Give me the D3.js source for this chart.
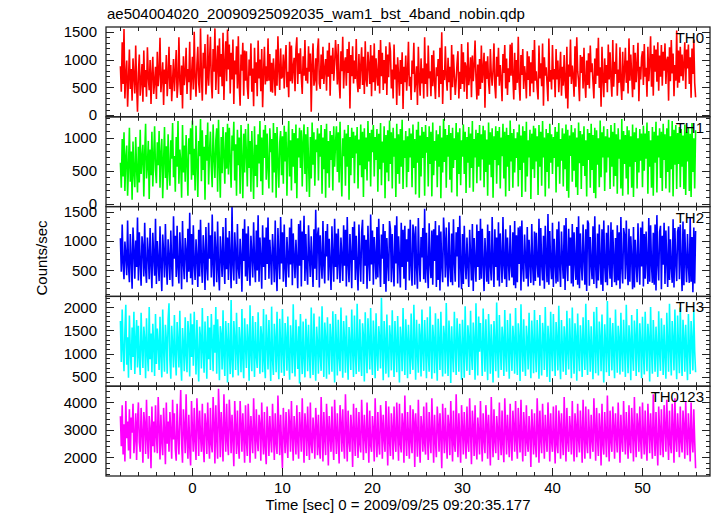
<!DOCTYPE html>
<html>
<head>
<meta charset="utf-8">
<script src="https://cdn.jsdelivr.net/npm/d3@7"></script>
<style>
  html, body { margin: 0; padding: 0; background: #fff; }
  svg { display: block; font-family: "Liberation Sans", Arial, Helvetica, sans-serif; }
</style>
</head>
<body>
<svg id="chart" width="717" height="516"></svg>
<script>
// ---------------- data ----------------
const title = "ae504004020_20090925092035_wam1_bst_4band_nobin.qdp";
const xLabel = "Time [sec] 0 = 2009/09/25 09:20:35.177";
const yLabel = "Counts/sec";
const panelNames = ["TH0", "TH1", "TH2", "TH3", "TH0123"];
const panelColors = ["#ff0000", "#00ff00", "#0000ff", "#00ffff", "#ff00ff"];
const xTicks = [0, 10, 20, 30, 40, 50];
const yTicks = [[0, 500, 1000, 1500], [0, 500, 1000], [500, 1000, 1500], [500, 1000, 1500, 2000], [2000, 3000, 4000]];
const yMinorStep = [100, 100, 100, 100, 200];
const yDomains = [[-31, 1585], [-45, 1315], [60, 1585], [300, 2230], [1320, 4590]];
const xDomain = [-9.6, 57.5];
const tStart = -8;     // first bin time (s)
const tStep = 0.1;     // bin width (s)

const th0 = [
880,420,1310,560,1550,300,720,980,150,640,1180,470,830,260,1020,690,390,1250,540,60,
760,1090,350,610,920,240,1160,500,810,330,1220,680,450,990,200,730,1050,380,600,870,
290,1140,520,760,1390,410,650,950,180,820,560,1080,340,700,1230,470,900,250,630,1010,
430,780,1170,310,560,1400,620,360,890,120,1060,540,740,1210,380,830,590,1320,270,700,
1050,460,1500,680,330,910,1230,570,400,1560,720,260,1120,840,1280,370,650,1450,530,960,
1410,600,300,1190,780,1560,450,880,1250,380,1380,690,1100,520,1480,270,920,1330,610,1540,
820,1270,390,1120,640,1360,200,980,730,1240,480,1420,560,170,1090,800,1300,350,1160,620,
1150,510,290,1000,710,1290,420,840,160,1210,580,950,340,1340,660,1000,430,1190,140,760,
1230,550,880,610,1380,620,1100,420,940,400,1020,720,350,1180,530,1420,810,450,1200,660,
690,1090,480,960,1260,500,780,320,1320,610,1250,570,870,1030,430,1180,1400,560,1110,740,
1200,680,380,1060,710,1350,620,850,570,1240,780,1110,60,920,1290,530,640,1020,440,1170,
1380,570,470,1090,650,1230,560,820,1010,440,1160,690,1300,350,1070,740,1210,620,920,1350,
1060,550,1280,610,300,1150,790,1410,480,940,1040,530,1190,760,1320,120,1080,700,1240,570,
980,650,1370,610,410,1100,470,880,1220,540,1050,380,1330,640,510,1140,900,560,1260,340,
1070,590,1290,440,1020,730,530,1170,390,1350,700,1120,450,990,570,1240,360,1090,680,1310,
1150,480,820,300,1270,640,910,180,1040,720,350,990,560,1130,110,870,590,1070,440,760,
1320,520,690,270,980,740,1300,410,610,880,180,1230,640,350,1020,570,840,300,1400,560,
930,330,1250,660,790,340,1080,520,1160,590,290,860,700,1010,320,1210,560,1490,200,810,
630,1240,690,440,1030,590,870,270,1260,500,1090,730,360,620,940,1150,300,780,470,1280,
560,1130,420,950,860,290,1310,540,720,1040,320,1070,610,890,1340,680,280,910,350,1010,
470,1250,580,810,1120,130,970,650,1060,600,380,1190,740,530,820,1290,520,300,1050,690,
1210,530,900,650,250,1100,760,1260,480,1020,360,840,590,1270,710,1300,690,280,1120,450,
990,580,1410,560,260,1080,720,1190,470,880,700,300,1150,630,1060,340,950,570,1170,410,
1350,620,790,480,280,1250,660,930,520,1290,170,1040,710,860,550,250,1380,600,810,460,
1260,640,830,320,1190,640,980,410,760,1140,350,870,530,1080,600,300,1230,120,910,690,
1360,560,890,700,330,1240,510,1400,790,620,250,1080,760,1050,480,1210,610,310,980,540,
1110,480,1250,770,930,600,300,1020,560,1200,710,1390,490,860,150,1230,660,320,1020,580,
900,410,1270,640,1130,630,330,1350,510,960,740,1290,350,820,580,1220,570,270,1140,430,
810,1210,580,980,390,1380,620,1090,720,320,1260,460,1120,590,900,1300,250,870,640,1040,
1150,540,1280,690,850,330,1230,610,920,1420,510,1100,350,1250,780,1180,600,1310,440,1070,
690,1260,530,1140,800,1290,560,980,1050,260,1220,610,1350,750,1110,340,900,620,1520,490,
1160,580,1230,700,1090,620,930,1310,470,1180,840,1270,560,1040,310,1200,740,1360,580,320
];

const th1 = [
620,240,980,410,1080,190,700,880,120,560,1150,330,790,60,940,470,250,1010,520,170,
860,320,1120,450,690,890,110,760,1210,380,570,950,70,820,430,1090,260,700,1170,510,
310,930,580,1100,240,760,980,80,640,1160,390,870,210,1050,520,270,960,680,1220,400,
720,180,1010,560,1250,300,820,640,90,1190,470,880,330,1040,610,120,990,750,1140,360,
1260,430,830,200,1180,600,100,950,720,1280,340,1110,510,860,60,1040,650,1230,290,790,
1090,560,250,1200,700,390,960,1140,180,1270,610,90,1010,460,1160,750,300,1080,530,1210,
440,1150,660,240,1030,800,1240,350,900,120,1120,580,1000,150,1190,680,80,1060,470,1130,
750,260,1210,540,950,180,1100,640,70,1170,420,890,250,1050,610,1250,340,1000,130,1120,
690,1190,360,1060,550,230,1140,780,980,170,1220,470,1070,90,1160,620,240,930,1100,430,
1020,300,1180,640,1090,120,820,1250,410,960,200,1130,560,1070,310,1200,80,990,700,1150,
540,1110,260,940,1200,450,1050,180,1160,640,100,1010,380,1230,590,1080,270,970,780,1140,
350,1060,710,1190,150,1000,520,1130,90,1210,460,950,240,1100,660,1040,200,1170,560,920,
1170,480,1080,320,1240,610,110,990,720,1120,270,1060,560,1190,60,1010,430,1150,690,1090,
310,1030,760,1160,230,970,580,1200,400,1090,100,1140,520,1000,350,1250,640,1070,260,1120,
780,1190,410,1010,660,1130,180,1060,520,1220,280,940,620,1170,80,1040,470,1110,340,1260,
600,1080,230,1150,710,990,100,1210,450,1050,300,1130,560,1270,220,960,690,1100,250,1020,
480,1140,700,1060,250,1200,540,980,140,1120,620,1240,90,1030,410,1160,690,1090,120,1190,
770,1010,260,1170,600,1090,110,1230,430,950,650,1110,250,1050,560,1180,80,1000,470,1280,
630,1130,240,1040,710,1190,360,1070,170,1150,540,990,660,1220,110,1080,450,1140,280,960,
710,1200,450,1090,160,1010,620,1160,240,1060,540,1250,180,980,700,1120,310,1070,560,1190,
350,1050,670,1180,250,1110,480,970,120,1230,590,1080,400,1140,90,1020,660,1170,300,1100,
580,1160,230,1000,720,1210,380,1090,110,1150,560,1040,190,1260,640,1070,240,1130,470,990,
690,1080,260,1200,510,1030,100,1170,620,1100,180,1240,410,960,700,1120,70,1060,520,1180,
390,1140,640,1020,130,1190,560,1090,270,1250,700,1000,110,1130,480,1070,230,1210,620,1050,
450,1010,690,1160,170,1090,560,1220,300,980,650,1140,260,1060,520,1200,190,1120,90,1030,
720,1190,330,1080,500,1140,250,1000,130,1230,610,1100,220,1050,570,1170,420,960,110,1130,
660,1070,240,1210,510,1040,160,1150,80,1110,590,990,250,1260,400,1080,700,1170,190,1020,
470,1130,700,1000,220,1190,560,1090,260,1220,420,1050,150,1140,680,970,230,1280,120,1100,
600,1040,380,1170,140,1110,560,1020,240,1200,100,1080,630,1150,230,990,470,1130,650,1060,
250,1180,500,1060,680,1230,150,1100,560,960,240,1160,120,1090,620,1240,170,1030,700,1140,
390,1090,190,1210,660,1050,230,1140,480,1270,170,1020,520,1250,110,1120,590,1190,220,1070,
600,1160,250,1130,560,1030,220,1200,130,1080,640,1150,190,1060,100,1220,480,990,230,1110
];

const th2 = [
1050,480,1280,620,350,990,760,420,1350,580,300,1120,690,190,1230,840,360,1010,560,1400,
330,1150,640,240,1080,900,400,1310,520,290,1060,780,350,1220,600,200,1140,730,410,1380,
270,1000,650,320,1250,560,150,1110,800,380,1290,610,260,1030,710,340,1180,580,230,1420,
700,1090,390,1260,550,280,1150,760,180,1340,620,350,1050,830,300,1210,480,1480,370,1120,
260,1270,610,340,1030,720,220,1190,400,1360,650,290,1100,780,170,1240,560,330,1310,700,
1100,380,1450,600,230,1160,820,300,1330,510,160,1080,740,390,1240,620,270,1390,520,1060,
340,1170,700,200,1580,610,330,1150,800,270,1290,540,360,1040,720,140,1210,660,1370,400,
1130,320,1250,580,240,1090,770,380,1320,650,300,1180,500,1440,310,1060,710,190,1270,560,
1060,340,1230,610,1400,360,1020,690,260,1120,800,300,1350,540,150,1220,700,350,1410,620,
1150,310,1280,540,220,1070,730,380,1230,600,1380,250,1130,720,370,1020,660,200,1290,580,
1350,230,1160,680,1430,320,1120,560,260,1270,740,390,1080,640,220,1200,530,1530,340,1100,
1230,210,1100,660,360,1340,580,280,1170,740,1290,330,1040,620,170,1250,710,310,1380,560,
1130,350,1210,640,290,1060,720,320,1270,580,1190,230,1410,610,300,1120,760,200,1240,680,
1330,340,1090,560,160,1280,690,310,1150,1360,270,1100,580,1020,190,1260,650,320,1450,600,
1180,260,1070,730,350,1240,380,1380,620,220,1110,700,1290,270,1170,140,1050,640,320,1340,
1200,300,1120,580,230,1270,620,1420,280,1080,690,210,1310,560,1190,360,1260,170,1030,650,
1210,330,1360,600,240,1280,1120,260,1250,570,190,1390,650,310,1070,720,1220,350,1550,290,
1140,560,200,1300,630,370,1180,260,1200,660,1340,220,1100,340,1270,160,1160,590,300,1400,
1050,380,1230,610,230,1320,580,300,1130,250,1370,640,310,1150,740,1240,210,1430,560,180,
1120,270,1260,650,350,1060,580,220,1190,740,330,1290,150,1050,640,310,1280,560,1170,340,
1380,360,1210,620,150,1050,700,310,1280,270,1170,590,330,1410,640,220,1200,560,1060,330,
1320,230,1130,690,290,1410,600,350,1200,220,1060,660,330,1270,580,380,1150,250,1340,200,
1100,300,1230,610,1250,160,1350,560,310,1110,710,360,1240,230,1020,650,290,1290,580,250,
1160,320,1140,630,380,1380,240,1220,610,330,1090,190,1260,700,300,1460,260,1170,590,350,
1310,220,1040,640,280,1200,310,1330,570,220,1160,680,360,1270,170,1390,610,320,1210,580,
1060,280,1290,230,1150,650,340,1240,260,1420,200,1130,610,330,1280,700,260,1200,150,1350,
1300,240,1070,620,350,1250,270,1420,580,200,1130,330,1280,660,260,1200,150,1350,600,300,
1140,250,1270,640,360,1320,220,1190,700,300,1050,250,1270,330,1150,190,1410,560,280,1220,
1110,350,1350,620,250,1210,310,1080,700,180,1240,210,1020,650,300,1300,590,260,1230,570,
1330,230,1120,360,1160,650,270,1390,310,1270,600,290,1140,260,1280,160,1440,620,330,1150,
1260,180,1090,600,1310,270,1180,650,220,1250,340,1030,560,290,1370,210,1220,620,320,1160,
1240,350,1280,620,150,1330,250,1200,660,300,1120,580,290,1390,310,1070,130,1230,280,1170
];

const th3 = [
1700,820,1950,1100,620,1480,2050,760,1350,480,1820,1050,650,1560,930,1900,560,1280,1720,700,
1600,930,540,1880,1170,690,1580,1320,470,1760,1010,620,2000,880,1430,600,1640,1190,520,1850,
780,1540,1210,650,1790,960,490,1950,1080,610,1620,1300,570,1740,2080,860,460,1600,1150,700,
1830,990,530,1680,1240,700,1920,870,420,1550,1190,620,1780,1000,600,1700,1400,510,1860,930,
1630,740,1900,1180,550,1720,960,400,1580,1350,680,1980,1050,590,1690,1130,460,1810,880,1560,
650,1850,1240,620,1620,1020,2000,570,1740,1190,430,1590,1400,660,1930,960,520,1700,1280,380,
1660,1080,560,2150,870,490,1700,1310,650,1880,1030,530,1570,1220,600,1960,900,470,1760,1150,
690,1630,1260,420,2040,1010,620,1810,1170,500,1680,950,690,1890,1120,570,1590,1360,600,1960,
830,470,1840,1230,660,1720,1060,410,2010,880,540,1640,1290,600,1900,1000,450,1750,1180,590,
1960,1020,520,1660,1300,630,1800,930,440,1610,1210,580,2060,1010,510,1730,1180,670,1590,360,
1850,1100,560,1690,940,490,1750,1280,620,1620,990,470,1990,1140,540,1860,1020,420,1580,1210,
570,1800,970,630,2020,1190,500,1670,1330,460,1780,1050,550,1640,1260,610,1910,1010,380,1850,
1230,530,1730,930,620,1990,1150,480,1700,1280,590,1820,1000,440,1570,1190,650,1950,1080,500,
1820,1030,560,2070,1160,610,1740,920,520,1650,1380,400,1890,1060,580,1760,1250,660,1980,1010,
540,1710,1280,470,1870,1020,630,1590,1300,680,2200,1110,430,1700,1240,570,1840,960,490,1610,
1330,640,1930,1090,500,1700,1190,600,1810,1050,380,1580,1260,620,1980,1110,540,1740,1300,470,
1620,1160,560,1860,940,650,2050,1220,440,1730,1010,590,1640,1350,510,1950,1060,630,1720,1180,
470,1780,1020,610,2010,1140,460,1620,1280,580,1870,990,420,1750,1230,650,1900,1070,510,1600,
1370,570,2090,1130,520,1710,1240,370,1590,1010,600,1900,1170,540,1760,1300,610,1640,1080,440,
1730,1210,480,2020,1050,630,1610,1320,540,1920,990,650,1670,1260,440,2080,1140,530,1800,1040,
1660,1100,520,1970,1190,610,1740,1010,430,1850,1270,570,1630,1080,380,1700,1230,620,2100,1060,
480,1830,1160,650,1580,1300,520,1940,990,610,1720,1200,460,1860,1090,630,1600,1270,570,1980,
1050,540,1650,1320,410,2060,1130,610,1740,1000,520,1600,1290,660,1880,1060,470,1710,1190,580,
1940,1080,600,1720,1210,460,1830,1020,530,1660,1340,650,2000,1120,500,1600,1250,390,1900,1090,
620,1850,1160,520,1680,1280,640,2030,990,450,1720,1130,610,1590,1270,540,1920,1050,660,1760,
1200,470,1990,1080,570,1650,1330,420,1860,1020,620,1610,1240,500,1780,1100,650,2070,1010,540,
1720,1250,610,1590,1010,450,1900,1170,580,2000,1090,530,1690,1320,620,1840,990,380,1630,1210,
600,2130,1060,520,1770,1290,640,1660,1020,470,1950,1180,590,1600,1310,550,1880,1040,610,1730,
1150,500,2050,1100,580,1610,1260,430,1830,990,630,1710,1340,520,1960,1080,600,1650,1220,470,
1790,1020,550,1900,1180,620,1640,1300,400,2000,1070,570,1720,1230,610,1580,1110,500,1910,1040,
630,1760,1250,540,1620,1000,460,1880,1190,610,2070,1100,530,1700,1280,640,1950,1030,450,1820,
1160,580,1990,1060,520,1730,1310,610,1620,1010,430,1850,1180,560,1700,1270,640,1930,1050,600
];

const th0123 = [
3500,2400,3900,2100,3200,1850,4050,2700,3300,2250,3750,1950,3450,2900,3950,2150,2700,3600,1900,3300,
4000,2550,2200,3800,2900,1800,3650,3200,2120,4100,2700,1950,3500,3000,1600,3850,2400,3300,2180,3900,
2800,2150,4200,3100,1920,3550,2600,2080,3800,2950,1750,4000,2500,3300,2200,3650,2900,1950,4100,2650,
3600,2300,1880,3950,2800,2100,3400,4450,2500,1800,3750,3100,2150,4300,2700,1950,3550,2400,1700,4050,
3000,2200,3800,2600,1900,4150,3300,2050,3700,2800,2200,3950,2450,1820,3600,3150,2120,4000,2700,1950,
3800,2500,2180,4200,3200,1780,3900,2700,1950,4500,3400,2000,3650,2850,1850,4300,3050,2200,3950,2600,
2080,4100,3300,2150,3550,2700,1680,4050,3100,2120,3700,2500,1950,4050,3200,2200,3600,2750,1800,3900,
2600,2050,3950,3100,1800,3500,2800,2150,4150,2950,1950,3750,2650,2220,3550,3200,1880,4000,2800,2100,
3650,2400,1750,3850,3000,2050,3500,2700,2180,3950,2900,1900,3600,2550,2120,4250,3100,2080,3550,2500,
1600,3800,2900,2150,3650,2600,1980,3750,3200,2200,4050,2750,1880,3500,2900,2100,3900,2600,1950,3650,
3000,2200,4150,2800,1800,3600,3050,2050,3850,2700,1900,4000,2500,2150,3450,2900,1950,3800,3100,2080,
3550,2400,1950,4200,3000,1850,3650,2700,2080,3950,3100,1700,3500,2800,2200,3850,2600,1900,4100,2950,
2120,3600,2700,1780,3900,3200,2200,3750,2550,1950,4300,3050,1850,3700,2600,2200,3550,3000,1650,3950,
2800,2050,3800,2950,1980,3650,2500,2180,4100,3100,1900,3550,2750,2150,4000,2900,1800,3700,2450,2200,
3500,3000,1850,4150,2800,2000,3650,2550,2100,3900,3250,1950,3550,2700,2200,4050,2900,1700,3850,2600,
2050,3600,3050,1920,3850,2700,2200,4000,2900,1880,3950,2500,2180,3600,3150,1800,4250,2750,2050,3650,
2800,1950,3900,2600,2150,3750,3300,1650,3600,2900,2020,4100,2700,1800,3500,3050,2200,3850,2500,2100,
4000,2850,1900,3650,2700,2150,4150,3000,1800,3550,2600,2000,3850,3150,2200,3600,2750,1600,3950,2900,
2150,3800,2700,1950,3550,3100,2080,4050,2800,1850,3700,2500,2200,4300,2950,2000,3600,2700,1800,3900,
3050,2100,3650,2750,1950,3850,2600,2200,4150,2900,1750,3700,3100,2050,3900,2550,1920,3450,2900,2100,
4050,2800,1850,3600,2650,2150,3900,3200,1950,3550,2700,1700,4200,2950,2000,3750,2600,2150,3500,3000,
1900,4000,2750,2080,3700,2500,1820,4150,3050,2100,3550,2800,2000,3950,2650,1880,3700,3100,2200,4050,
2600,1950,3800,2900,2180,4100,2700,1850,3650,3000,2050,3900,2550,2200,3500,2850,1650,3750,2950,2100,
3600,2500,2000,4150,3100,1800,3700,2650,2150,3950,2900,1950,3550,2750,2200,4000,3050,1850,3600,2600,
2200,3850,2800,1780,3900,2500,2150,3700,3200,1950,3600,2700,2080,4200,2900,1850,3800,2600,2200,3500,
3000,2100,4050,2750,1850,3600,3100,2000,3950,2650,2180,3700,2900,1800,4100,2800,1950,3850,2550,2150,
3750,2900,1950,3550,2650,2200,4150,3050,1880,3800,2700,2050,3600,3000,1700,3950,2500,2100,3650,2850,
2000,4250,2800,1850,3700,2600,2200,3850,3100,1950,3600,2750,2180,4000,2900,1800,3550,2650,2200,4050,
2950,2100,3650,2800,1950,3900,2500,2150,3800,3000,1850,4200,2700,2000,3600,3150,2200,3850,2600,1950,
4000,2850,2100,3700,2550,1880,3950,3050,2150,3600,2750,1950,4300,2900,2050,3650,2600,1700,3850,3000,
2080,3750,2650,2000,3900,3100,2200,4100,2800,1900,3700,2500,2150,3950,3050,1800,4150,2700,2200,3600,
2900,2000,3850,2600,2180,3700,3150,1950,4050,2750,2080,3600,2900,1850,4000,2650,2180,3750,2600,1600
];

const seriesList = [th0, th1, th2, th3, th0123];

// ---------------- layout ----------------
const svg = d3.select("#chart");
const frameLeft = 106, frameRight = 710, frameTop = 27, frameBottom = 476;
const nPanels = seriesList.length;
const panelH = (frameBottom - frameTop) / nPanels;
const fontSize = 15;
const frameColor = "#222";

const x = d3.scaleLinear().domain(xDomain).range([frameLeft, frameRight]);

svg.append("text")
  .attr("x", 107).attr("y", 19)
  .attr("font-size", fontSize).attr("fill", "#000")
  .text(title);

const xMinor = d3.range(-8, 57, 2);

seriesList.forEach((vals, p) => {
  const top = frameTop + p * panelH;
  const bot = top + panelH;
  const y = d3.scaleLinear().domain(yDomains[p]).range([bot, top]);
  const g = svg.append("g");

  const clipId = "clip" + p;
  svg.append("clipPath").attr("id", clipId)
    .append("rect").attr("x", frameLeft).attr("y", top)
    .attr("width", frameRight - frameLeft).attr("height", panelH);

  const line = d3.line()
    .x((d, i) => x(tStart + i * tStep))
    .y(d => y(d));

  g.append("path")
    .datum(vals)
    .attr("clip-path", `url(#${clipId})`)
    .attr("fill", "none")
    .attr("stroke", panelColors[p])
    .attr("stroke-width", 1.6)
    .attr("stroke-linejoin", "bevel")
    .attr("d", line);

  const tg = g.append("g").attr("stroke", frameColor).attr("stroke-width", 1);
  xMinor.forEach(t => {
    const major = xTicks.includes(t);
    const len = major ? 8 : 4;
    const xx = Math.round(x(t)) + 0.5;
    tg.append("line").attr("x1", xx).attr("x2", xx).attr("y1", bot).attr("y2", bot - len);
    tg.append("line").attr("x1", xx).attr("x2", xx).attr("y1", top).attr("y2", top + len);
  });

  const [d0, d1] = yDomains[p];
  const step = yMinorStep[p];
  const minorY = d3.range(Math.ceil(d0 / step) * step, d1 + 0.001, step);
  minorY.forEach(v => {
    const major = yTicks[p].includes(v) || (v % (step * 5) === 0);
    const len = major ? 8 : 4;
    const yy = Math.round(y(v)) + 0.5;
    tg.append("line").attr("x1", frameLeft).attr("x2", frameLeft + len).attr("y1", yy).attr("y2", yy);
    tg.append("line").attr("x1", frameRight).attr("x2", frameRight - len).attr("y1", yy).attr("y2", yy);
  });

  yTicks[p].forEach(v => {
    g.append("text")
      .attr("x", 97).attr("y", y(v))
      .attr("dy", "0.36em")
      .attr("text-anchor", "end")
      .attr("font-size", fontSize)
      .attr("fill", "#000")
      .text(v);
  });

  g.append("rect")
    .attr("x", frameLeft).attr("y", top)
    .attr("width", frameRight - frameLeft).attr("height", panelH)
    .attr("fill", "none").attr("stroke", frameColor).attr("stroke-width", 1.3);

  g.append("text")
    .attr("x", 704).attr("y", top + 16)
    .attr("text-anchor", "end")
    .attr("font-size", fontSize)
    .attr("fill", "#000")
    .text(panelNames[p]);
});

xTicks.forEach(t => {
  svg.append("text")
    .attr("x", x(t)).attr("y", 493)
    .attr("text-anchor", "middle")
    .attr("font-size", fontSize).attr("fill", "#000")
    .text(t);
});

svg.append("text")
  .attr("x", 398).attr("y", 510)
  .attr("text-anchor", "middle")
  .attr("font-size", fontSize).attr("fill", "#000")
  .text(xLabel);

svg.append("text")
  .attr("transform", "translate(47,258) rotate(-90)")
  .attr("text-anchor", "middle")
  .attr("font-size", fontSize).attr("fill", "#000")
  .text(yLabel);
</script>
</body>
</html>
